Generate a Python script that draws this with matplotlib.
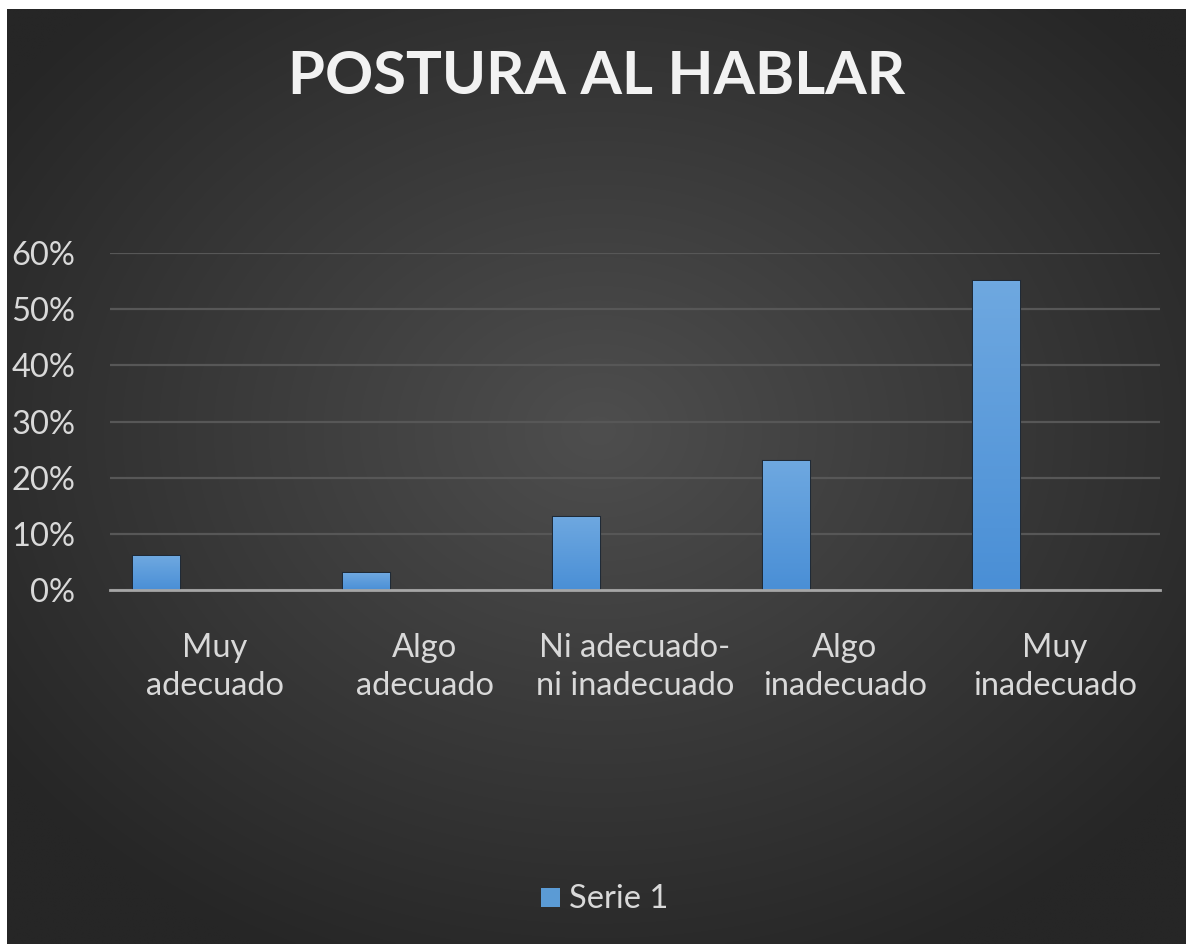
import numpy as np
import matplotlib
matplotlib.use("Agg")
import matplotlib.pyplot as plt
from matplotlib.patches import Rectangle
from matplotlib.colors import LinearSegmentedColormap

categories = ["Muy\nadecuado", "Algo\nadecuado", "Ni adecuado-\nni inadecuado", "Algo\ninadecuado", "Muy\ninadecuado"]
serie1 = [0.06, 0.03, 0.13, 0.23, 0.55]
yticks = [0.0, 0.1, 0.2, 0.3, 0.4, 0.5, 0.6]
ytick_labels = ["0%", "10%", "20%", "30%", "40%", "50%", "60%"]
title = "POSTURA AL HABLAR"
series_name = "Serie 1"

W, H = 1186, 944
fig = plt.figure(figsize=(W / 100, H / 100), dpi=100, facecolor="white")

# background with radial gradient
bg = fig.add_axes([7 / W, 0, 1 - 7 / W, 1 - 9 / H])
bg.set_axis_off()
ny, nx = 400, 500
yy, xx = np.mgrid[0:ny, 0:nx]
cx, cy = nx * 0.5, ny * 0.45
r = np.sqrt(((xx - cx) / (nx * 0.62)) ** 2 + ((yy - cy) / (ny * 0.62)) ** 2)
r = np.clip(r, 0, 1)
inner = np.array([0x4e, 0x4e, 0x4e]) / 255
outer = np.array([0x26, 0x26, 0x26]) / 255
img = inner[None, None, :] * (1 - r[..., None]) + outer[None, None, :] * r[..., None]
bg.imshow(img, aspect="auto", extent=[0, 1, 0, 1], interpolation="bilinear")
bg.set_xlim(0, 1)
bg.set_ylim(0, 1)

font = "Lato"
txtcol = "#d9d9d9"
fs = 23.5

ax = fig.add_axes([110 / W, 1 - 590 / H, 1050 / W, 337 / H])
ax.set_facecolor("none")
x = np.arange(len(categories))
offset = -0.5 + (23 + 23.5) / 210
width = 47 / 210
bars = ax.bar(x + offset, serie1, width=width, color="#5b9bd5", zorder=3,
              edgecolor="#1f2a36", linewidth=1.5)
grad = np.linspace(0, 1, 100)[:, None]
cmap = LinearSegmentedColormap.from_list("b", ["#4a8fd6", "#6ea8e0"])
for b in bars:
    x0, y0 = b.get_x(), b.get_y()
    im = ax.imshow(grad, cmap=cmap, aspect="auto", origin="lower",
                   extent=[x0, x0 + b.get_width(), y0, y0 + b.get_height()], zorder=4)
    im.set_clip_path(b)

ax.set_xlim(-0.5, len(categories) - 0.5)
ax.set_ylim(0, 0.6)
ax.set_yticks(yticks)
ax.set_yticklabels(ytick_labels, fontfamily=font, fontsize=fs, color=txtcol)
ax.set_xticks(x)
ax.set_xticklabels(categories, fontfamily=font, fontsize=fs, color=txtcol, linespacing=1.35)
ax.tick_params(axis="both", length=0)
ax.yaxis.set_tick_params(pad=25)
ax.xaxis.set_tick_params(pad=31)
for s in ["top", "right", "left"]:
    ax.spines[s].set_visible(False)
ax.spines["bottom"].set_color("#a6a6a6")
ax.spines["bottom"].set_linewidth(2)
ax.spines["bottom"].set_zorder(5)
ax.grid(axis="y", color="#575757", linewidth=1.6, zorder=0)
ax.set_axisbelow(True)

fig.text(597 / W, 1 - 77 / H, title, ha="center", va="center", fontfamily=font,
         fontweight="bold", fontsize=43, color="#f2f2f2")

# legend
fig.patches.append(Rectangle((541 / W, 1 - 907 / H), 19 / W, 19 / H, transform=fig.transFigure,
                             facecolor="#5b9bd5", edgecolor="none"))
fig.text(569 / W, 1 - 899 / H, series_name, ha="left", va="center", fontfamily=font,
         fontsize=fs, color=txtcol)

fig.savefig("out.png", dpi=100, facecolor="white")
